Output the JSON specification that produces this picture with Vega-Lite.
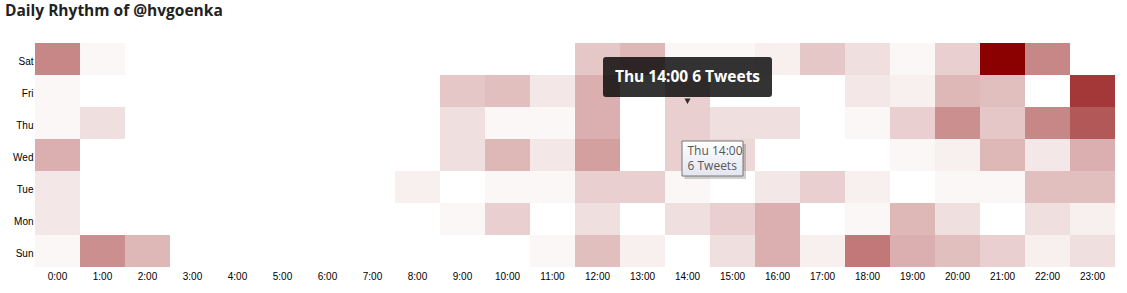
{
  "$schema": "https://vega.github.io/schema/vega-lite/v6.json",
  "width": 1080,
  "height": 224,
  "autosize": {"type": "none"},
  "padding": {"left": 35, "top": 43, "right": 12, "bottom": 26},
  "background": "white",
  "title": {"text": "Daily Rhythm of @hvgoenka", "anchor": "start", "frame": "group", "dx": -30, "offset": 12, "baseline": "alphabetic", "font": "Open Sans", "fontSize": 15.5, "fontWeight": "bold", "color": "#222222"},
  "config": {"view": {"stroke": null}},
  "datasets": {
    "cells": [
      {"day":"Sat","hour":"0:00","tweets":15},{"day":"Sat","hour":"1:00","tweets":1},{"day":"Sat","hour":"2:00","tweets":0},{"day":"Sat","hour":"3:00","tweets":0},{"day":"Sat","hour":"4:00","tweets":0},{"day":"Sat","hour":"5:00","tweets":0},{"day":"Sat","hour":"6:00","tweets":0},{"day":"Sat","hour":"7:00","tweets":0},{"day":"Sat","hour":"8:00","tweets":0},{"day":"Sat","hour":"9:00","tweets":0},{"day":"Sat","hour":"10:00","tweets":0},{"day":"Sat","hour":"11:00","tweets":0},{"day":"Sat","hour":"12:00","tweets":7},{"day":"Sat","hour":"13:00","tweets":9},{"day":"Sat","hour":"14:00","tweets":1},{"day":"Sat","hour":"15:00","tweets":1},{"day":"Sat","hour":"16:00","tweets":2},{"day":"Sat","hour":"17:00","tweets":7},{"day":"Sat","hour":"18:00","tweets":4},{"day":"Sat","hour":"19:00","tweets":1},{"day":"Sat","hour":"20:00","tweets":6},{"day":"Sat","hour":"21:00","tweets":32},{"day":"Sat","hour":"22:00","tweets":15},{"day":"Sat","hour":"23:00","tweets":0},
      {"day":"Fri","hour":"0:00","tweets":1},{"day":"Fri","hour":"1:00","tweets":0},{"day":"Fri","hour":"2:00","tweets":0},{"day":"Fri","hour":"3:00","tweets":0},{"day":"Fri","hour":"4:00","tweets":0},{"day":"Fri","hour":"5:00","tweets":0},{"day":"Fri","hour":"6:00","tweets":0},{"day":"Fri","hour":"7:00","tweets":0},{"day":"Fri","hour":"8:00","tweets":0},{"day":"Fri","hour":"9:00","tweets":7},{"day":"Fri","hour":"10:00","tweets":8},{"day":"Fri","hour":"11:00","tweets":3},{"day":"Fri","hour":"12:00","tweets":10},{"day":"Fri","hour":"13:00","tweets":0},{"day":"Fri","hour":"14:00","tweets":6},{"day":"Fri","hour":"15:00","tweets":0},{"day":"Fri","hour":"16:00","tweets":0},{"day":"Fri","hour":"17:00","tweets":0},{"day":"Fri","hour":"18:00","tweets":3},{"day":"Fri","hour":"19:00","tweets":2},{"day":"Fri","hour":"20:00","tweets":9},{"day":"Fri","hour":"21:00","tweets":8},{"day":"Fri","hour":"22:00","tweets":0},{"day":"Fri","hour":"23:00","tweets":25},
      {"day":"Thu","hour":"0:00","tweets":1},{"day":"Thu","hour":"1:00","tweets":4},{"day":"Thu","hour":"2:00","tweets":0},{"day":"Thu","hour":"3:00","tweets":0},{"day":"Thu","hour":"4:00","tweets":0},{"day":"Thu","hour":"5:00","tweets":0},{"day":"Thu","hour":"6:00","tweets":0},{"day":"Thu","hour":"7:00","tweets":0},{"day":"Thu","hour":"8:00","tweets":0},{"day":"Thu","hour":"9:00","tweets":4},{"day":"Thu","hour":"10:00","tweets":1},{"day":"Thu","hour":"11:00","tweets":1},{"day":"Thu","hour":"12:00","tweets":10},{"day":"Thu","hour":"13:00","tweets":0},{"day":"Thu","hour":"14:00","tweets":6},{"day":"Thu","hour":"15:00","tweets":4},{"day":"Thu","hour":"16:00","tweets":4},{"day":"Thu","hour":"17:00","tweets":0},{"day":"Thu","hour":"18:00","tweets":1},{"day":"Thu","hour":"19:00","tweets":6},{"day":"Thu","hour":"20:00","tweets":14},{"day":"Thu","hour":"21:00","tweets":7},{"day":"Thu","hour":"22:00","tweets":15},{"day":"Thu","hour":"23:00","tweets":21},
      {"day":"Wed","hour":"0:00","tweets":10},{"day":"Wed","hour":"1:00","tweets":0},{"day":"Wed","hour":"2:00","tweets":0},{"day":"Wed","hour":"3:00","tweets":0},{"day":"Wed","hour":"4:00","tweets":0},{"day":"Wed","hour":"5:00","tweets":0},{"day":"Wed","hour":"6:00","tweets":0},{"day":"Wed","hour":"7:00","tweets":0},{"day":"Wed","hour":"8:00","tweets":0},{"day":"Wed","hour":"9:00","tweets":4},{"day":"Wed","hour":"10:00","tweets":9},{"day":"Wed","hour":"11:00","tweets":3},{"day":"Wed","hour":"12:00","tweets":12},{"day":"Wed","hour":"13:00","tweets":0},{"day":"Wed","hour":"14:00","tweets":6},{"day":"Wed","hour":"15:00","tweets":5},{"day":"Wed","hour":"16:00","tweets":0},{"day":"Wed","hour":"17:00","tweets":0},{"day":"Wed","hour":"18:00","tweets":0},{"day":"Wed","hour":"19:00","tweets":1},{"day":"Wed","hour":"20:00","tweets":2},{"day":"Wed","hour":"21:00","tweets":9},{"day":"Wed","hour":"22:00","tweets":3},{"day":"Wed","hour":"23:00","tweets":10},
      {"day":"Tue","hour":"0:00","tweets":3},{"day":"Tue","hour":"1:00","tweets":0},{"day":"Tue","hour":"2:00","tweets":0},{"day":"Tue","hour":"3:00","tweets":0},{"day":"Tue","hour":"4:00","tweets":0},{"day":"Tue","hour":"5:00","tweets":0},{"day":"Tue","hour":"6:00","tweets":0},{"day":"Tue","hour":"7:00","tweets":0},{"day":"Tue","hour":"8:00","tweets":2},{"day":"Tue","hour":"9:00","tweets":0},{"day":"Tue","hour":"10:00","tweets":1},{"day":"Tue","hour":"11:00","tweets":1},{"day":"Tue","hour":"12:00","tweets":6},{"day":"Tue","hour":"13:00","tweets":6},{"day":"Tue","hour":"14:00","tweets":1},{"day":"Tue","hour":"15:00","tweets":0},{"day":"Tue","hour":"16:00","tweets":3},{"day":"Tue","hour":"17:00","tweets":6},{"day":"Tue","hour":"18:00","tweets":2},{"day":"Tue","hour":"19:00","tweets":0},{"day":"Tue","hour":"20:00","tweets":1},{"day":"Tue","hour":"21:00","tweets":1},{"day":"Tue","hour":"22:00","tweets":8},{"day":"Tue","hour":"23:00","tweets":8},
      {"day":"Mon","hour":"0:00","tweets":3},{"day":"Mon","hour":"1:00","tweets":0},{"day":"Mon","hour":"2:00","tweets":0},{"day":"Mon","hour":"3:00","tweets":0},{"day":"Mon","hour":"4:00","tweets":0},{"day":"Mon","hour":"5:00","tweets":0},{"day":"Mon","hour":"6:00","tweets":0},{"day":"Mon","hour":"7:00","tweets":0},{"day":"Mon","hour":"8:00","tweets":0},{"day":"Mon","hour":"9:00","tweets":1},{"day":"Mon","hour":"10:00","tweets":6},{"day":"Mon","hour":"11:00","tweets":0},{"day":"Mon","hour":"12:00","tweets":4},{"day":"Mon","hour":"13:00","tweets":0},{"day":"Mon","hour":"14:00","tweets":4},{"day":"Mon","hour":"15:00","tweets":6},{"day":"Mon","hour":"16:00","tweets":10},{"day":"Mon","hour":"17:00","tweets":0},{"day":"Mon","hour":"18:00","tweets":1},{"day":"Mon","hour":"19:00","tweets":9},{"day":"Mon","hour":"20:00","tweets":4},{"day":"Mon","hour":"21:00","tweets":0},{"day":"Mon","hour":"22:00","tweets":4},{"day":"Mon","hour":"23:00","tweets":2},
      {"day":"Sun","hour":"0:00","tweets":1},{"day":"Sun","hour":"1:00","tweets":14},{"day":"Sun","hour":"2:00","tweets":9},{"day":"Sun","hour":"3:00","tweets":0},{"day":"Sun","hour":"4:00","tweets":0},{"day":"Sun","hour":"5:00","tweets":0},{"day":"Sun","hour":"6:00","tweets":0},{"day":"Sun","hour":"7:00","tweets":0},{"day":"Sun","hour":"8:00","tweets":0},{"day":"Sun","hour":"9:00","tweets":0},{"day":"Sun","hour":"10:00","tweets":0},{"day":"Sun","hour":"11:00","tweets":1},{"day":"Sun","hour":"12:00","tweets":8},{"day":"Sun","hour":"13:00","tweets":2},{"day":"Sun","hour":"14:00","tweets":0},{"day":"Sun","hour":"15:00","tweets":4},{"day":"Sun","hour":"16:00","tweets":10},{"day":"Sun","hour":"17:00","tweets":2},{"day":"Sun","hour":"18:00","tweets":17},{"day":"Sun","hour":"19:00","tweets":10},{"day":"Sun","hour":"20:00","tweets":8},{"day":"Sun","hour":"21:00","tweets":6},{"day":"Sun","hour":"22:00","tweets":2},{"day":"Sun","hour":"23:00","tweets":4}
    ],
    "hover": [
      {"day": "Thu", "hour": "14:00", "label": "Thu 14:00 6 Tweets", "tip": "Thu 14:00\n6 Tweets"}
    ]
  },
  "encoding": {
    "x": {"field": "hour", "type": "ordinal",
      "scale": {"domain": ["0:00","1:00","2:00","3:00","4:00","5:00","6:00","7:00","8:00","9:00","10:00","11:00","12:00","13:00","14:00","15:00","16:00","17:00","18:00","19:00","20:00","21:00","22:00","23:00"], "paddingInner": 0, "paddingOuter": 0},
      "axis": {"title": null, "labelAngle": 0, "ticks": false, "domain": false, "labelPadding": 4, "labelFont": "Liberation Sans", "labelFontSize": 10, "labelColor": "#000000"}},
    "y": {"field": "day", "type": "ordinal",
      "scale": {"domain": ["Sat","Fri","Thu","Wed","Tue","Mon","Sun"], "paddingInner": 0, "paddingOuter": 0},
      "axis": {"title": null, "ticks": false, "domain": false, "labelPadding": 2, "labelOffset": 3, "labelFont": "Liberation Sans", "labelFontSize": 10, "labelColor": "#000000"}}
  },
  "layer": [
    {
      "data": {"name": "cells"},
      "mark": {"type": "rect", "fill": "#8b0000"},
      "encoding": {
        "opacity": {"field": "tweets", "type": "quantitative", "scale": {"domain": [0, 32], "range": [0, 1]}, "legend": null}
      }
    },
    {
      "data": {"name": "hover"},
      "mark": {"type": "point", "size": 40000, "opacity": 1, "filled": true, "fill": "#000000", "fillOpacity": 0.8, "strokeWidth": 0,
        "shape": "M -0.815 -0.66 H 0.815 Q 0.845 -0.66 0.845 -0.63 V -0.29 Q 0.845 -0.26 0.815 -0.26 H -0.815 Q -0.845 -0.26 -0.845 -0.29 V -0.63 Q -0.845 -0.66 -0.815 -0.66 Z M -0.03 -0.245 H 0.03 L 0 -0.19 Z"}
    },
    {
      "data": {"name": "hover"},
      "mark": {"type": "text", "dy": -41, "baseline": "alphabetic", "align": "center", "font": "Open Sans", "fontSize": 15.5, "fontWeight": "bold", "fill": "#ffffff"},
      "encoding": {"text": {"field": "label"}}
    },
    {
      "data": {"name": "hover"},
      "mark": {"type": "point", "size": 40000, "opacity": 1, "filled": true, "fill": "#000000", "fillOpacity": 0.18, "strokeWidth": 0,
        "shape": "M -0.03 0.21 H 0.585 V 0.56 H -0.03 Z"}
    },
    {
      "data": {"name": "hover"},
      "mark": {"type": "point", "size": 40000, "opacity": 1, "filled": true,
        "fill": {"gradient": "linear", "x1": 0, "y1": 0, "x2": 0, "y2": 1, "stops": [{"offset": 0, "color": "#ffffff"}, {"offset": 1, "color": "#e3e5f0"}]},
        "stroke": "#767676", "strokeWidth": 1,
        "shape": "M -0.055 0.18 H 0.555 V 0.53 H -0.055 Z"}
    },
    {
      "data": {"name": "hover"},
      "mark": {"type": "text", "dy": 32, "dx": 0, "baseline": "alphabetic", "align": "left", "lineBreak": "\n", "lineHeight": 15, "font": "Open Sans", "fontSize": 12, "fill": "#575757"},
      "encoding": {"text": {"field": "tip"}}
    }
  ]
}
